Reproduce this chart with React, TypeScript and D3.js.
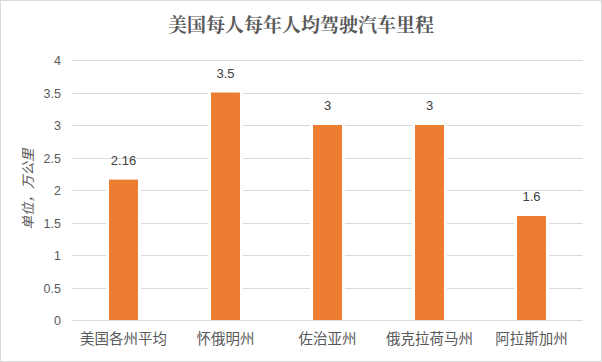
import React from "react";
import * as d3 from "d3";

const categories = ["美国各州平均", "怀俄明州", "佐治亚州", "俄克拉荷马州", "阿拉斯加州"];
const values = [2.16, 3.5, 3, 3, 1.6];
const valueLabels = ["2.16", "3.5", "3", "3", "1.6"];
const yTicks = [0, 0.5, 1, 1.5, 2, 2.5, 3, 3.5, 4];
const title = "美国每人每年人均驾驶汽车里程";
const yTitle = "单位，万公里";

const W = 602;
const H = 362;
const font = "'Noto Sans CJK SC', 'Microsoft YaHei', sans-serif";

export default function App() {
  const x = d3.scaleBand<string>().domain(categories).range([72.5, 582.5]).paddingInner(0.716).paddingOuter(0.358);
  const y = d3.scaleLinear().domain([0, 4]).range([320, 60]);
  const bw = x.bandwidth();

  return (
    <svg width={W} height={H} style={{ position: "absolute", left: 0, top: 0 }} fontFamily={font}>
      <rect x={0.5} y={0.5} width={W - 1} height={H - 1} fill="#fff" stroke="#d9d9d9" />
      <text x={301} y={32} textAnchor="middle" fontSize={19} fontWeight={700} fill="#595959" fontFamily="'Noto Serif CJK SC', 'Noto Sans CJK SC', serif">
        {title}
      </text>
      {yTicks.map((t) => (
        <g key={t}>
          {t !== 0 && <line x1={72.5} x2={582.5} y1={Math.round(y(t)) + 0.5} y2={Math.round(y(t)) + 0.5} stroke="#d9d9d9" />}
          <text x={61} y={y(t) + 5} textAnchor="end" fontSize={12.5} fill="#595959" fontFamily="'Liberation Sans', Arial, sans-serif">
            {t}
          </text>
        </g>
      ))}
      <line x1={72.5} x2={582.5} y1={320.5} y2={320.5} stroke="#d9d9d9" />
      {categories.map((c, i) => {
        const bx = x(c)!;
        const top = y(values[i]);
        return (
          <g key={c}>
            <rect x={bx - 3} y={top - 3} width={bw + 6} height={320 - top + 3} fill="#fff" />
            <rect x={bx} y={top} width={bw} height={320 - top} fill="#ED7D31" />
            <text x={bx + bw / 2} y={top - 15} textAnchor="middle" fontSize={13} fill="#404040" fontFamily="'Liberation Sans', Arial, sans-serif">
              {valueLabels[i]}
            </text>
            <text x={bx + bw / 2} y={344} textAnchor="middle" fontSize={14.5} fill="#595959">
              {c}
            </text>
          </g>
        );
      })}
      <text
        transform={`translate(33, 189) rotate(-90)`}
        textAnchor="middle"
        fontSize={13.5}
        fontStyle="italic"
        fill="#595959"
      >
        {yTitle}
      </text>
    </svg>
  );
}
